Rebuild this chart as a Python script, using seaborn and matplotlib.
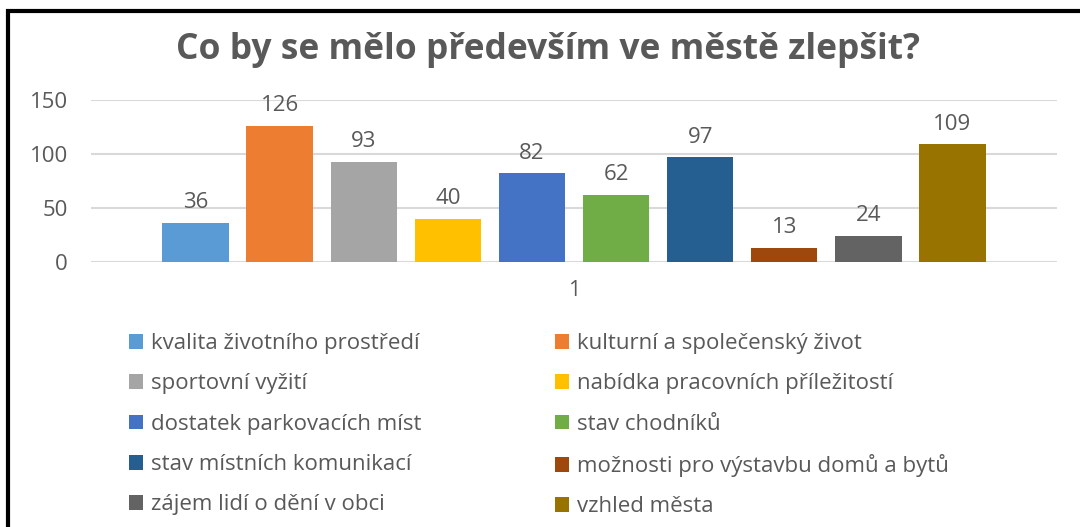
import matplotlib
import numpy as np
import pandas as pd
import seaborn as sns

from matplotlib import pyplot as plt
from matplotlib.patches import Patch, Rectangle

matplotlib.use("Agg")

categories = [
    "kvalita životního prostředí",
    "kulturní a společenský život",
    "sportovní vyžití",
    "nabídka pracovních příležitostí",
    "dostatek parkovacích míst",
    "stav chodníků",
    "stav místních komunikací",
    "možnosti pro výstavbu domů a bytů",
    "zájem lidí o dění v obci",
    "vzhled města",
]
values = [36, 126, 93, 40, 82, 62, 97, 13, 24, 109]
colors = [
    "#5B9BD5", "#ED7D31", "#A5A5A5", "#FFC000", "#4472C4",
    "#70AD47", "#255E91", "#9E480E", "#636363", "#997300",
]
x_label = ["1"] * len(values)
y_ticks = [0, 50, 100, 150]

TEXT = "#595959"

sns.set_theme(style="white")
plt.rcParams["font.family"] = ["Open Sans", "DejaVu Sans"]

df = pd.DataFrame({"group": x_label, "what": categories, "count": values})

fig = plt.figure(figsize=(10.8, 5.27), dpi=100)
ax = fig.add_axes([0.084, 0.503, 0.895, 0.307])

sns.barplot(
    data=df, x="group", y="count", hue="what", hue_order=categories,
    palette=colors, width=0.87, gap=0.21, legend=False, ax=ax,
    saturation=1, edgecolor="none",
)

for c in ax.containers:
    ax.bar_label(c, padding=7, fontsize=16, color=TEXT)

ax.set_ylim(0, 150)
ax.set_xlim(-0.5, 0.5)
ax.set_yticks(y_ticks)
ax.yaxis.grid(True, color="#D9D9D9", linewidth=1.5)
ax.set_axisbelow(True)
sns.despine(ax=ax, left=True, bottom=True)
ax.tick_params(axis="y", labelsize=16, labelcolor=TEXT, pad=16.5, length=0)
ax.tick_params(axis="x", labelsize=15.5, labelcolor=TEXT, pad=13, length=0)
ax.set_xlabel("")
ax.set_ylabel("")

fig.text(0.507, 0.905, "Co by se mělo především ve městě zlepšit?",
         ha="center", va="center", fontsize=25.5, fontweight="bold", color=TEXT)

order = [0, 2, 4, 6, 8, 1, 3, 5, 7, 9]
handles = [Patch(facecolor=colors[i], edgecolor="none") for i in order]
labels = [categories[i] for i in order]
fig.legend(
    handles, labels, ncol=2, loc="upper left",
    bbox_to_anchor=(0.119, 0.368), frameon=False, fontsize=16,
    labelcolor=TEXT, handlelength=0.65, handleheight=0.65,
    handletextpad=0.35, labelspacing=0.87, columnspacing=6.0,
    borderpad=0, borderaxespad=0,
)

# black frame visible on the left and top of the screenshot
fig.add_artist(Rectangle((8 / 1080, -0.1), 1.2, 1.1 - 11 / 527,
                         transform=fig.transFigure, fill=False,
                         edgecolor="black", linewidth=3))

fig.savefig("out.png", dpi=100)
plt.close(fig)
